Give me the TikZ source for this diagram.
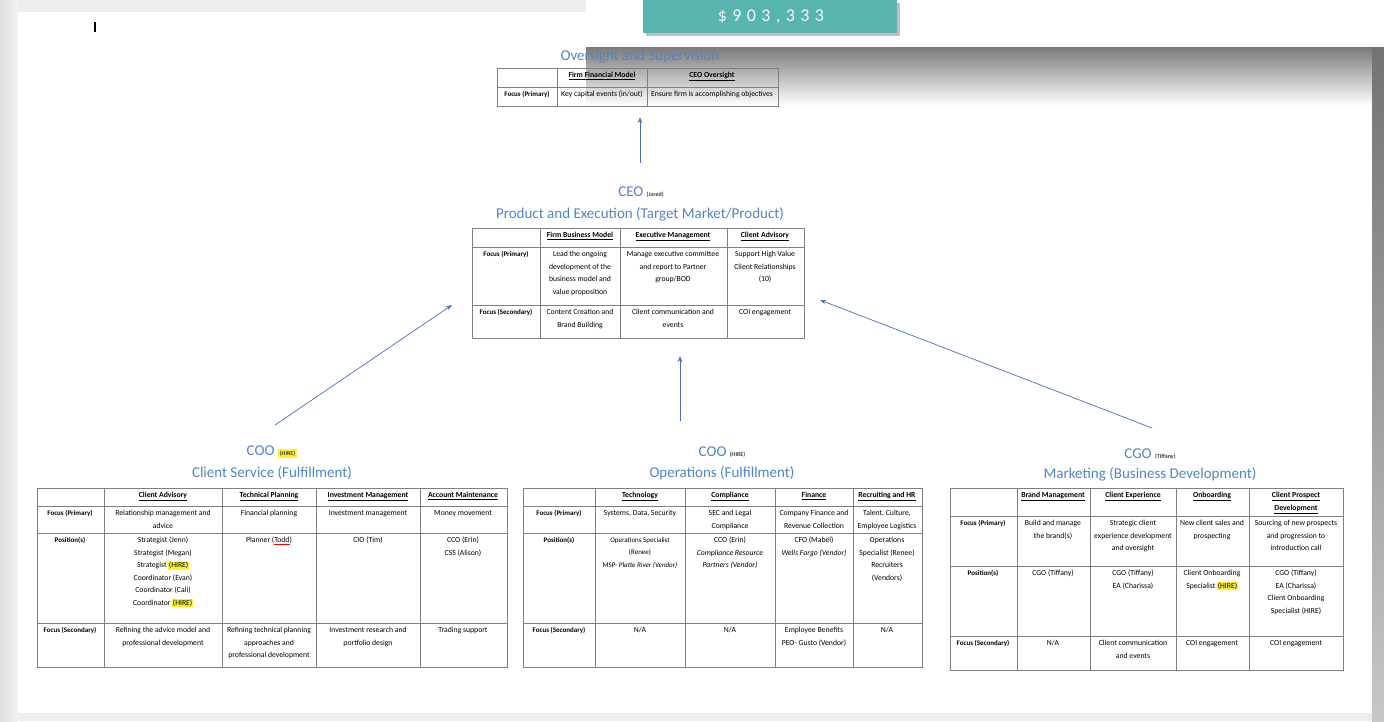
\documentclass[tikz,border=0pt]{standalone}
\usepackage{fontspec}
\setmainfont{Carlito}
\usetikzlibrary{arrows.meta,positioning}
\definecolor{headblue}{RGB}{78,133,203}
\definecolor{arrowblue}{RGB}{72,112,186}
\definecolor{tealbox}{RGB}{88,180,174}
\definecolor{hiyellow}{RGB}{255,242,40}
\newcommand\hire[1]{{\setlength{\fboxsep}{0.6pt}\colorbox{hiyellow}{#1}}}
\newcommand\spell[1]{{\color{red}\underline{\color{black}#1}}}
\newcommand\hd[1]{\textbf{\underline{#1}}}
\newcommand\who[1]{{\fontsize{6}{7}\selectfont\bfseries\color{black!75}#1}}
\begin{document}
\begin{tikzpicture}[x=1pt,y=-1pt,
   title/.style={font=\fontsize{15}{17}\selectfont,text=headblue,inner sep=0pt},
   cell/.style={anchor=north,align=center,inner sep=0pt,font=\fontsize{7.7}{12.5}\selectfont},
   lab/.style={cell,font=\fontsize{7}{12.5}\selectfont\bfseries},
   grid/.style={draw=black!50,line width=0.8pt},
   link/.style={-{Stealth[length=6pt,width=4.5pt]},draw=arrowblue,line width=0.7pt}]
  \useasboundingbox (0,0) rectangle (1384,721);
  \fill[black!7] (0,0) rectangle (1384,721);
  \shade[left color=black!12,right color=black!5] (0,0) rectangle (18,721);
  \fill[white] (18,12) rectangle (1372,713);
  \fill[white] (586,0) rectangle (1384,47);
  \shade[top color=black!52,middle color=black!18,bottom color=white] (586,47) rectangle (1372,106);
  \shade[top color=black!55,bottom color=black!22] (1372,47) rectangle (1384,721);
  \fill[black!25] (646,3) rectangle (900,36);
  \fill[tealbox] (643,0) rectangle (897,33);
  \node[font=\fontsize{18}{18}\selectfont\addfontfeature{LetterSpace=30},text=white!92!tealbox] (total) at (771,17) {\$903,333};
  \draw[line width=1.3pt] (95,22) -- (95,32);

  \node[title] (ovt) at (640,57) {Oversight and Supervision};
  \draw[grid] (497,68) rectangle (778,106) (557,68) -- (557,106) (647,68) -- (647,106) (497,87) -- (778,87);
  \node[cell] (ovA) at (602,72) {\hd{Firm Financial Model}};
  \node[cell] (ovB) at (712,72) {\hd{CEO Oversight}};
  \node[lab]  (ovL) at (527,91) {Focus (Primary)};
  \node[cell] (ovC) at (602,91) {Key capital events (in/out)};
  \node[cell] (ovD) at (712,91) {Ensure firm is accomplishing objectives};

  \node[title] (ceo) at (641,192) {CEO \who{(Jared)}};
  \node[title] (ceot) at (640,214) {Product and Execution (Target Market/Product)};
  \draw[grid] (472,228) rectangle (804,338)
    \foreach \x in {540,620,727} {(\x,228) -- (\x,338)}
    \foreach \y in {247,305} {(472,\y) -- (804,\y)};
  \node[cell] (ceA) at (580,232) {\hd{Firm Business Model}};
  \node[cell] (ceB) at (673,232) {\hd{Executive Management}};
  \node[cell] (ceC) at (765,232) {\hd{Client Advisory}};
  \node[lab]  (ceL1) at (506,251) {Focus (Primary)};
  \node[cell] (ce1) at (580,251) {Lead the ongoing\\development of the\\business model and\\value proposition};
  \node[cell] (ce2) at (673,251) {Manage executive committee\\and report to Partner\\group/BOD};
  \node[cell] (ce3) at (765,251) {Support High Value\\Client Relationships\\(10)};
  \node[lab]  (ceL2) at (506,309) {Focus (Secondary)};
  \node[cell] (ce4) at (580,309) {Content Creation and\\Brand Building};
  \node[cell] (ce5) at (673,309) {Client communication and\\events};
  \node[cell] (ce6) at (765,309) {COI engagement};

  \node[title] (coo) at (272,452) {COO {\setlength{\fboxsep}{2pt}\colorbox{hiyellow}{\who{(HIRE)}}}};
  \node[title] (cst) at (272,473) {Client Service (Fulfillment)};
  \draw[grid] (37,488) rectangle (507,667)
    \foreach \x in {104,222,316,420} {(\x,488) -- (\x,667)}
    \foreach \y in {506,533,623} {(37,\y) -- (507,\y)};
  \node[cell] (csA) at (163,492) {\hd{Client Advisory}};
  \node[cell] (csB) at (269,492) {\hd{Technical Planning}};
  \node[cell] (csC) at (368,492) {\hd{Investment Management}};
  \node[cell] (csD) at (463,492) {\hd{Account Maintenance}};
  \node[lab]  (csL1) at (70,510) {Focus (Primary)};
  \node[cell] (cs1) at (163,510) {Relationship management and\\advice};
  \node[cell] (cs2) at (269,510) {Financial planning};
  \node[cell] (cs3) at (368,510) {Investment management};
  \node[cell] (cs4) at (463,510) {Money movement};
  \node[lab]  (csL2) at (70,537) {Position(s)};
  \node[cell] (cs5) at (163,537) {Strategist (Jenn)\\Strategist (Megan)\\Strategist \hire{(HIRE)}\\Coordinator (Evan)\\Coordinator (Cali)\\Coordinator \hire{(HIRE)}};
  \node[cell] (cs6) at (269,537) {Planner (\spell{Todd})};
  \node[cell] (cs7) at (368,537) {CIO (Tim)};
  \node[cell] (cs8) at (463,537) {CCO (Erin)\\CSS (Alison)};
  \node[lab]  (csL3) at (70,627) {Focus (Secondary)};
  \node[cell] (cs9) at (163,627) {Refining the advice model and\\professional development};
  \node[cell] (cs10) at (269,627) {Refining technical planning\\approaches and\\professional development};
  \node[cell] (cs11) at (368,627) {Investment research and\\portfolio design};
  \node[cell] (cs12) at (463,627) {Trading support};

  \node[title] (coo2) at (722,452) {COO \who{(HIRE)}};
  \node[title] (opt) at (722,473) {Operations (Fulfillment)};
  \draw[grid] (523,488) rectangle (922,667)
    \foreach \x in {595,685,775,853} {(\x,488) -- (\x,667)}
    \foreach \y in {506,533,623} {(523,\y) -- (922,\y)};
  \node[cell] (opA) at (640,492) {\hd{Technology}};
  \node[cell] (opB) at (730,492) {\hd{Compliance}};
  \node[cell] (opC) at (814,492) {\hd{Finance}};
  \node[cell] (opD) at (887,492) {\hd{Recruiting and HR}};
  \node[lab]  (opL1) at (559,510) {Focus (Primary)};
  \node[cell] (op1) at (640,510) {Systems, Data, Security};
  \node[cell] (op2) at (730,510) {SEC and Legal\\Compliance};
  \node[cell] (op3) at (814,510) {Company Finance and\\Revenue Collection};
  \node[cell] (op4) at (887,510) {Talent, Culture,\\Employee Logistics};
  \node[lab]  (opL2) at (559,537) {Position(s)};
  \node[cell,font=\fontsize{7}{12.5}\selectfont] (op5) at (640,537) {Operations Specialist\\(Renee)\\MSP- \textit{Platte River (Vendor)}};
  \node[cell] (op6) at (730,537) {CCO (Erin)\\\textit{Compliance Resource}\\\textit{Partners (Vendor)}};
  \node[cell] (op7) at (814,537) {CFO (Mabel)\\\textit{Wells Fargo (Vendor)}};
  \node[cell] (op8) at (887,537) {Operations\\Specialist (Renee)\\Recruiters\\(Vendors)};
  \node[lab]  (opL3) at (559,627) {Focus (Secondary)};
  \node[cell] (op9) at (640,627) {N/A};
  \node[cell] (op10) at (730,627) {N/A};
  \node[cell] (op11) at (814,627) {Employee Benefits\\PEO- Gusto (Vendor)};
  \node[cell] (op12) at (887,627) {N/A};

  \node[title] (cgo) at (1150,454) {CGO \who{(Tiffany)}};
  \node[title] (mkt) at (1150,474) {Marketing (Business Development)};
  \draw[grid] (950,488) rectangle (1343,670)
    \foreach \x in {1017,1090,1176,1249} {(\x,488) -- (\x,670)}
    \foreach \y in {516,566,636} {(950,\y) -- (1343,\y)};
  \node[cell] (mkA) at (1053,492) {\hd{Brand Management}};
  \node[cell] (mkB) at (1133,492) {\hd{Client Experience}};
  \node[cell] (mkC) at (1212,492) {\hd{Onboarding}};
  \node[cell] (mkD) at (1296,492) {\hd{Client Prospect}\\\hd{Development}};
  \node[lab]  (mkL1) at (983,520) {Focus (Primary)};
  \node[cell] (mk1) at (1053,520) {Build and manage\\the brand(s)};
  \node[cell] (mk2) at (1133,520) {Strategic client\\experience development\\and oversight};
  \node[cell] (mk3) at (1212,520) {New client sales and\\prospecting};
  \node[cell] (mk4) at (1296,520) {Sourcing of new prospects\\and progression to\\introduction call};
  \node[lab]  (mkL2) at (983,570) {Position(s)};
  \node[cell] (mk5) at (1053,570) {CGO (Tiffany)};
  \node[cell] (mk6) at (1133,570) {CGO (Tiffany)\\EA (Charissa)};
  \node[cell] (mk7) at (1212,570) {Client Onboarding\\Specialist \hire{(HIRE)}};
  \node[cell] (mk8) at (1296,570) {CGO (Tiffany)\\EA (Charissa)\\Client Onboarding\\Specialist (HIRE)};
  \node[lab]  (mkL3) at (983,640) {Focus (Secondary)};
  \node[cell] (mk9) at (1053,640) {N/A};
  \node[cell] (mk10) at (1133,640) {Client communication\\and events};
  \node[cell] (mk11) at (1212,640) {COI engagement};
  \node[cell] (mk12) at (1296,640) {COI engagement};

  \coordinate (up0) at (640,163);   \coordinate (to0) at (640,117);
  \coordinate (up1) at (275,425);   \coordinate (to1) at (452,305);
  \coordinate (up2) at (680,421);   \coordinate (to2) at (680,356);
  \coordinate (up3) at (1152,428);  \coordinate (to3) at (820,300);
  \draw[link] (up0) -- (to0);
  \draw[link] (up1) -- (to1);
  \draw[link] (up2) -- (to2);
  \draw[link] (up3) -- (to3);
\end{tikzpicture}
\end{document}
